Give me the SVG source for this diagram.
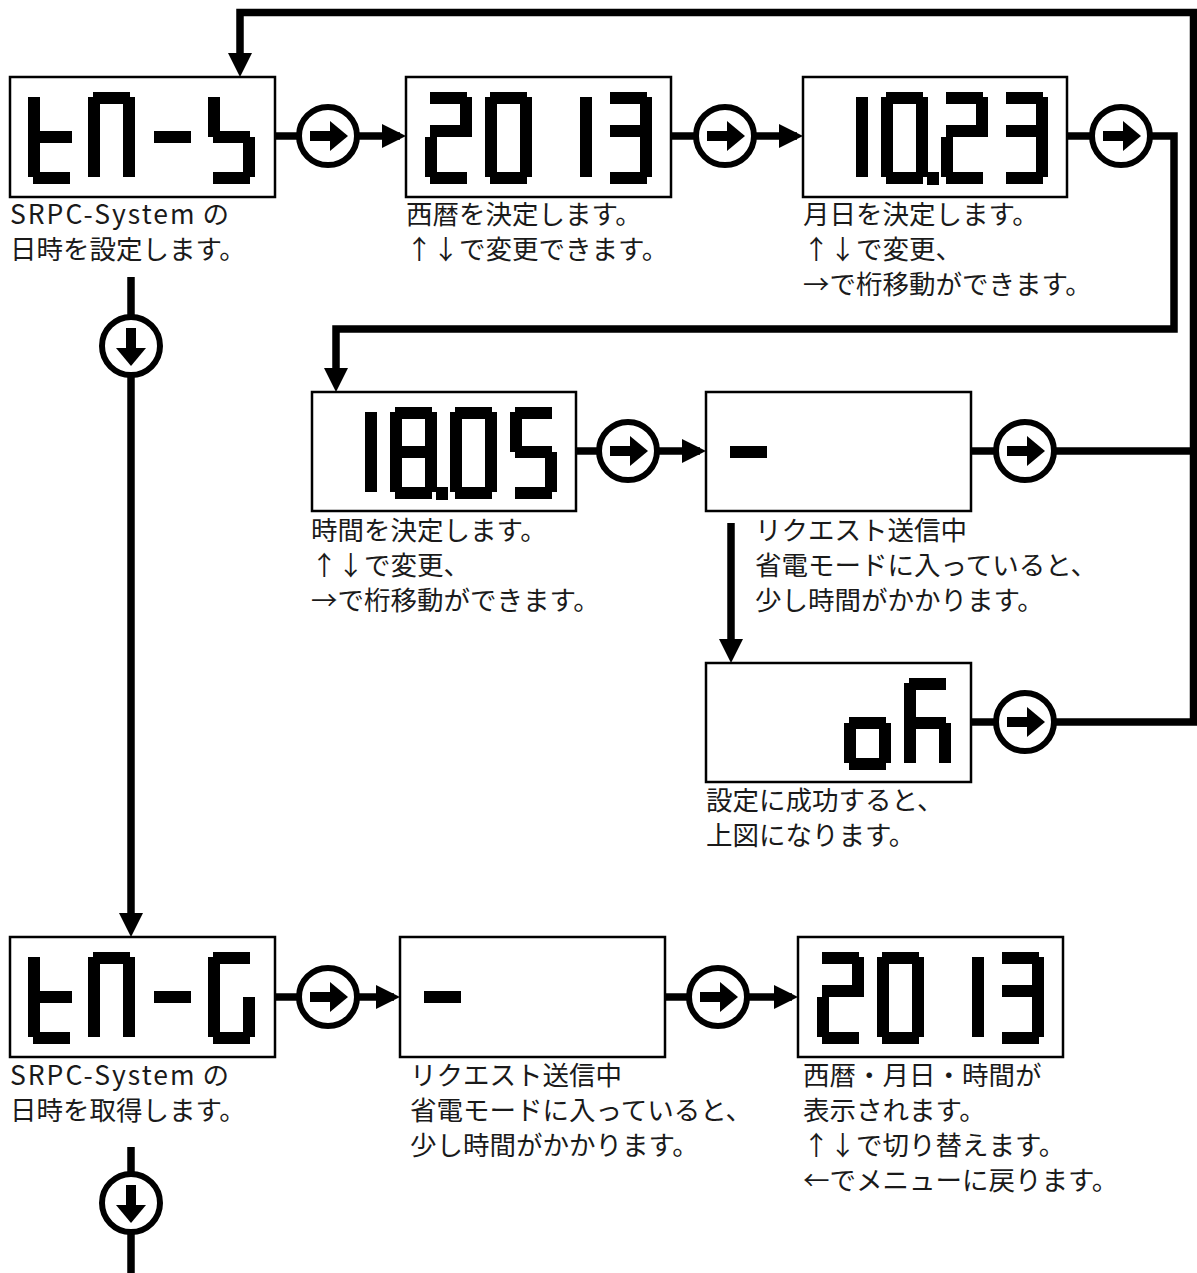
<svg xmlns="http://www.w3.org/2000/svg" xmlns:xlink="http://www.w3.org/1999/xlink" width="1197" height="1273" viewBox="0 0 1197 1273">
<style>
.box{fill:#fff;stroke:#000;stroke-width:2.5}
.ln{fill:none;stroke:#000;stroke-width:7.5;stroke-linejoin:miter;stroke-linecap:butt}
.t{font-family:"Noto Sans CJK JP","Noto Sans",sans-serif;font-size:26.5px;fill:#1a1a1a}
.lat{letter-spacing:2px}
</style>
<defs>
<rect id="sa" x="5" y="0" width="37" height="12"/>
<rect id="sb" x="35" y="5" width="12" height="40"/>
<rect id="sc" x="35" y="45" width="12" height="40"/>
<rect id="sd" x="5" y="80" width="37" height="12"/>
<rect id="se" x="0" y="45" width="12" height="40"/>
<rect id="sf" x="0" y="5" width="12" height="40"/>
<rect id="sg" x="5" y="39" width="37" height="12"/>
<rect id="sh" x="5" y="33" width="37" height="12"/>
<rect id="sp" x="46" y="80" width="12" height="13"/>
<g id="D0"><use href="#sa"/><use href="#sb"/><use href="#sc"/><use href="#sd"/><use href="#se"/><use href="#sf"/></g>
<g id="D1"><use href="#sb"/><use href="#sc"/></g>
<g id="D2"><use href="#sa"/><use href="#sb"/><use href="#sh"/><use href="#se"/><use href="#sd"/></g>
<g id="D3"><use href="#sa"/><use href="#sb"/><use href="#sh"/><use href="#sc"/><use href="#sd"/></g>
<g id="D5"><use href="#sa"/><use href="#sf"/><use href="#sg"/><use href="#sc"/><use href="#sd"/></g>
<g id="D8"><use href="#D0"/><use href="#sg"/></g>
<g id="Lt"><use href="#sf"/><use href="#se"/><use href="#sd"/><rect x="0" y="39" width="44" height="12"/></g>
<g id="Ln"><use href="#sa"/><use href="#sb"/><use href="#sc"/><use href="#se"/><use href="#sf"/></g>
<g id="Lm"><use href="#sg"/></g>
<g id="LS"><use href="#sf"/><use href="#sg"/><use href="#sc"/><use href="#sd"/></g>
<g id="LG"><use href="#sa"/><use href="#sf"/><use href="#se"/><use href="#sd"/><use href="#sc"/></g>
<g id="Lo"><use href="#sg"/><use href="#sc"/><use href="#sd"/><use href="#se"/></g>
<g id="Lh"><use href="#sa"/><use href="#sf"/><use href="#se"/><use href="#sg"/><use href="#sc"/></g>
<g id="cir"><circle r="29" fill="#fff" stroke="#000" stroke-width="6"/><rect x="-18" y="-5" width="22" height="10"/><path d="M2,-15 L20,0 L2,15 Z"/></g>
<path id="ah" d="M0,0 L-24,-12 L-24,12 Z"/>
</defs>

<g id="connectors">
<path class="ln" d="M275,136 H400"/>
<path class="ln" d="M671,136 H797"/>
<path class="ln" d="M1067,136 H1174 V329 H336 V370"/>
<path class="ln" d="M1025,722 H1193.5 V12.5 H240 V55"/>
<path class="ln" d="M576,451 H700"/>
<path class="ln" d="M971,451 H1193.5"/>
<path class="ln" d="M971,722 H1025"/>
<path class="ln" d="M731,523 V642"/>
<path class="ln" d="M131,277 V916"/>
<path class="ln" d="M131,1147 V1273"/>
<path class="ln" d="M275,997 H394"/>
<path class="ln" d="M665,997 H792"/>
<use href="#ah" transform="translate(406,136)"/>
<use href="#ah" transform="translate(803,136)"/>
<use href="#ah" transform="translate(336,392) rotate(90)"/>
<use href="#ah" transform="translate(240,77) rotate(90)"/>
<use href="#ah" transform="translate(706,451)"/>
<use href="#ah" transform="translate(731,663) rotate(90)"/>
<use href="#ah" transform="translate(131,937) rotate(90)"/>
<use href="#ah" transform="translate(400,997)"/>
<use href="#ah" transform="translate(798,997)"/>
<use href="#cir" transform="translate(328,136)"/>
<use href="#cir" transform="translate(725,136)"/>
<use href="#cir" transform="translate(1121,136)"/>
<use href="#cir" transform="translate(628,451)"/>
<use href="#cir" transform="translate(1025,451)"/>
<use href="#cir" transform="translate(1025,722)"/>
<use href="#cir" transform="translate(328,997)"/>
<use href="#cir" transform="translate(718,997)"/>
<use href="#cir" transform="translate(131,346) rotate(90)"/>
<use href="#cir" transform="translate(131,1203) rotate(90)"/>
</g>

<g id="node-tms">
<rect class="box" x="10" y="77" width="265" height="120"/>
<use href="#Lt" x="28" y="92"/><use href="#Ln" x="88" y="92"/><use href="#Lm" x="149" y="92"/><use href="#LS" x="208" y="92"/>
<text class="t" x="10" y="224"><tspan class="lat">SRPC-System</tspan> の</text>
<text class="t" x="10" y="259">日時を設定します。</text>
</g>

<g id="node-year">
<rect class="box" x="406" y="77" width="265" height="120"/>
<use href="#D2" x="425" y="92"/><use href="#D0" x="485" y="92"/><use href="#D1" x="545" y="92"/><use href="#D3" x="605" y="92"/>
<text class="t" x="406" y="224">西暦を決定します。</text>
<text class="t" x="406" y="259">↑↓で変更できます。</text>
</g>

<g id="node-date">
<rect class="box" x="803" y="77" width="264" height="120"/>
<use href="#D1" x="821" y="92"/><use href="#D0" x="881" y="92"/><use href="#sp" x="881" y="92"/><use href="#D2" x="941" y="92"/><use href="#D3" x="1001" y="92"/>
<text class="t" x="803" y="224">月日を決定します。</text>
<text class="t" x="803" y="259">↑↓で変更、</text>
<text class="t" x="803" y="294">→で桁移動ができます。</text>
</g>

<g id="node-time">
<rect class="box" x="312" y="392" width="264" height="119"/>
<use href="#D1" x="330" y="407"/><use href="#D8" x="390" y="407"/><use href="#sp" x="390" y="407"/><use href="#D0" x="450" y="407"/><use href="#D5" x="510" y="407"/>
<text class="t" x="311" y="540">時間を決定します。</text>
<text class="t" x="311" y="575">↑↓で変更、</text>
<text class="t" x="311" y="610">→で桁移動ができます。</text>
</g>

<g id="node-send1">
<rect class="box" x="706" y="392" width="265" height="119"/>
<use href="#Lm" x="725" y="407"/>
<text class="t" x="755" y="540">リクエスト送信中</text>
<text class="t" x="755" y="575">省電モードに入っていると、</text>
<text class="t" x="755" y="610">少し時間がかかります。</text>
</g>

<g id="node-ok">
<rect class="box" x="706" y="663" width="265" height="119"/>
<use href="#Lo" x="844" y="678"/><use href="#Lh" x="904" y="678"/>
<text class="t" x="706" y="810">設定に成功すると、</text>
<text class="t" x="706" y="845">上図になります。</text>
</g>

<g id="node-tmg">
<rect class="box" x="10" y="937" width="265" height="120"/>
<use href="#Lt" x="28" y="952"/><use href="#Ln" x="88" y="952"/><use href="#Lm" x="149" y="952"/><use href="#LG" x="208" y="952"/>
<text class="t" x="10" y="1085"><tspan class="lat">SRPC-System</tspan> の</text>
<text class="t" x="10" y="1120">日時を取得します。</text>
</g>

<g id="node-send2">
<rect class="box" x="400" y="937" width="265" height="120"/>
<use href="#Lm" x="419" y="952"/>
<text class="t" x="410" y="1085">リクエスト送信中</text>
<text class="t" x="410" y="1120">省電モードに入っていると、</text>
<text class="t" x="410" y="1155">少し時間がかかります。</text>
</g>

<g id="node-show">
<rect class="box" x="798" y="937" width="265" height="120"/>
<use href="#D2" x="817" y="952"/><use href="#D0" x="877" y="952"/><use href="#D1" x="937" y="952"/><use href="#D3" x="997" y="952"/>
<text class="t" x="803" y="1085">西暦・月日・時間が</text>
<text class="t" x="803" y="1120">表示されます。</text>
<text class="t" x="803" y="1155">↑↓で切り替えます。</text>
<text class="t" x="803" y="1190">←でメニューに戻ります。</text>
</g>
</svg>
